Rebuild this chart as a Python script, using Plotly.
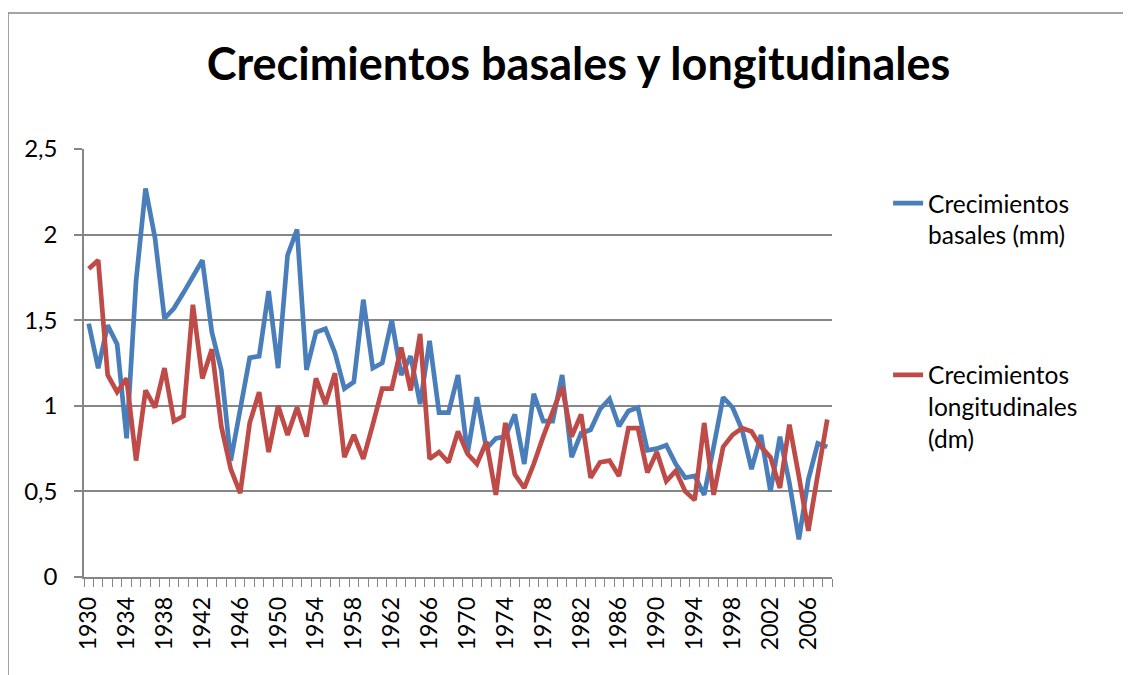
import plotly.graph_objects as go

years = list(range(1930, 2009))

basales = [1.48, 1.22, 1.47, 1.36, 0.81, 1.73, 2.27, 1.98, 1.51, 1.57,
           1.66, 1.75, 1.85, 1.43, 1.21, 0.68, 0.98, 1.28, 1.29, 1.67,
           1.22, 1.88, 2.03, 1.21, 1.43, 1.45, 1.31, 1.10, 1.14, 1.62,
           1.22, 1.25, 1.50, 1.18, 1.29, 1.01, 1.38, 0.96, 0.96, 1.18,
           0.72, 1.05, 0.75, 0.81, 0.82, 0.95, 0.66, 1.07, 0.91, 0.91,
           1.18, 0.70, 0.84, 0.86, 0.98, 1.04, 0.88, 0.97, 0.99, 0.74,
           0.75, 0.77, 0.66, 0.58, 0.59, 0.48, 0.76, 1.05, 0.99, 0.86,
           0.63, 0.83, 0.50, 0.82, 0.55, 0.22, 0.57, 0.78, 0.76]

longitudinales = [1.80, 1.85, 1.18, 1.08, 1.16, 0.68, 1.09, 0.99, 1.22, 0.91,
                  0.94, 1.59, 1.16, 1.33, 0.88, 0.63, 0.49, 0.90, 1.08, 0.73,
                  1.00, 0.83, 0.99, 0.82, 1.16, 1.01, 1.19, 0.70, 0.83, 0.69,
                  0.89, 1.10, 1.10, 1.34, 1.09, 1.42, 0.69, 0.73, 0.67, 0.85,
                  0.72, 0.66, 0.79, 0.48, 0.90, 0.60, 0.52, 0.66, 0.82, 0.97,
                  1.11, 0.82, 0.95, 0.58, 0.67, 0.68, 0.59, 0.87, 0.87, 0.61,
                  0.73, 0.56, 0.62, 0.50, 0.45, 0.90, 0.48, 0.76, 0.83, 0.87,
                  0.85, 0.76, 0.70, 0.52, 0.89, 0.59, 0.27, 0.60, 0.92]

tick_years = list(range(1930, 2009, 4))

names = ["Crecimientos<br>basales (mm)", "Crecimientos<br>longitudinales<br>(dm)"]
colors = ["#4A7EBB", "#BE4B48"]

grid = "#868686"
font = "Lato"

fig = go.Figure()
for serie, name, color in zip([basales, longitudinales], names, colors):
    fig.add_trace(go.Scatter(x=years, y=serie, mode="lines", name=name,
                             legendgroup=name,
                             line=dict(color=color, width=4.7)))

# la pagina tiene 8px de margen en el body
fig.update_layout(
    width=1123, height=667,
    margin=dict(l=76, r=299, t=141, b=98),
    paper_bgcolor="white", plot_bgcolor="white",
    separators=", ",
    font=dict(family=font, size=24, color="black"),
    title=dict(text="<b>Crecimientos basales y longitudinales</b>",
               x=0.508, xanchor="center", y=0.915, yanchor="middle",
               font=dict(family=font, size=45, color="black")),
    legend=dict(x=1.075, xanchor="left", y=0.926, yanchor="top",
                traceorder="grouped", tracegroupgap=105, valign="top",
                font=dict(family=font, size=24.5, color="black")),
    showlegend=True,
)

fig.update_xaxes(range=[1929.5, 2008.5], tickmode="array", tickvals=tick_years,
                 ticktext=[str(y) for y in tick_years], tickangle=-90,
                 ticks="", showgrid=False, zeroline=False,
                 showline=True, linecolor=grid, linewidth=1.5,
                 ticklabelstandoff=9, tickfont=dict(size=23),
                 minor=dict(ticks="outside", tick0=1929.5, dtick=1, ticklen=8,
                            tickcolor=grid, tickwidth=1.2, showgrid=False))

fig.update_yaxes(range=[0, 2.5], dtick=0.5, ticks="outside", ticklen=8,
                 tickcolor=grid, tickwidth=1.5, showgrid=True, gridcolor=grid,
                 gridwidth=1.5, zeroline=False, showline=True, linecolor=grid,
                 linewidth=1.5, ticklabelstandoff=12)

# marco exterior del grafico (cortado a la derecha y abajo)
fig.add_shape(type="path", xref="paper", yref="paper",
              path="M -0.1016,-0.3 L -0.1016,1.3178 L 1.5,1.3178",
              line=dict(color=grid, width=1.5))

fig.write_html("out.html")
